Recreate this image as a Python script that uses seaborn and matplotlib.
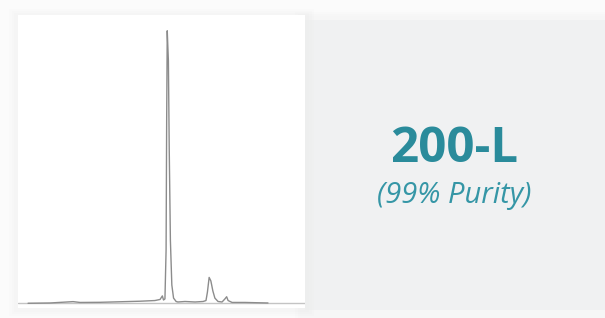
import matplotlib
matplotlib.use("Agg")
import matplotlib.pyplot as plt
import seaborn as sns
import pandas as pd
from matplotlib.patches import Rectangle

# chromatogram trace (time in min, signal in % of main peak)
time = [0.35, 1.11, 1.92, 2.16, 2.86, 3.55, 4.25, 4.77, 4.95, 5.03, 5.07, 5.12,
        5.16, 5.18, 5.20, 5.24, 5.27, 5.31, 5.36, 5.42, 5.51, 5.57, 5.82, 6.17,
        6.45, 6.55, 6.60, 6.66, 6.72, 6.79, 6.86, 6.97, 7.11, 7.21, 7.27, 7.32,
        7.46, 7.91, 8.71]
signal = [-0.1, 0.0, 0.5, 0.2, 0.25, 0.45, 0.65, 0.9, 1.3, 2.6, 1.1, 1.5,
          19.5, 67.0, 100.0, 89.0, 56.0, 23.0, 6.6, 1.8, 0.55, 0.37, 0.55, 0.37,
          0.55, 0.9, 4.0, 9.4, 8.1, 4.4, 1.8, 0.55, 0.37, 1.5, 2.3, 0.9,
          0.2, 0.2, 0.0]

product = "200-L"
purity = "(99% Purity)"

df = pd.DataFrame({"time": time, "signal": signal})

sns.set_style("white")
fig = plt.figure(figsize=(6.05, 3.18), dpi=100, facecolor="#fbfbfb")

# grey info panel on the right, with soft shadow
for i in range(3):
    fig.patches.append(Rectangle((300 / 605 - i * 0.004, 0.0), 0.52, 1 - 16 / 318 + i * 0.006,
                                 transform=fig.transFigure, color="#d8d8d8", alpha=0.03, lw=0, zorder=0))
fig.patches.append(Rectangle((305 / 605, 8 / 318), 1 - 305 / 605, 1 - 28 / 318,
                             transform=fig.transFigure, color="#f0f1f2", lw=0, zorder=1))

# white chart panel shadow
for i in range(3):
    fig.patches.append(Rectangle((14 / 605 - i * 0.004, 6 / 318 - i * 0.006),
                                 (295 + i * 5) / 605, (299 + i * 4) / 318,
                                 transform=fig.transFigure, color="#d8d8d8", alpha=0.04, lw=0, zorder=1))

ax = fig.add_axes([18 / 605, 10 / 318, 287 / 605, 293 / 318])
ax.set_zorder(5)
ax.set_facecolor("white")
ax.axhline(0, color="#c4c4c4", lw=1.0, zorder=1)
sns.lineplot(data=df, x="time", y="signal", ax=ax, color="#8c8c8c", lw=1.0, zorder=2)
ax.set_xlim(0, 10)
ax.set_ylim(-1.84, 105.8)
ax.set_xticks([])
ax.set_yticks([])
ax.set_xlabel("")
ax.set_ylabel("")
sns.despine(ax=ax, left=True, bottom=True)

fig.text(454 / 605, 1 - 162 / 318, product, ha="center", va="baseline",
         fontsize=35.5, fontweight="bold", color="#2a8b9b", family="Open Sans", zorder=6)
fig.text(454 / 605, 1 - 203 / 318, purity, ha="center", va="baseline",
         fontsize=21, style="italic", color="#3596a6", family="Open Sans", zorder=6)

fig.savefig("out.png", dpi=100, facecolor=fig.get_facecolor())
